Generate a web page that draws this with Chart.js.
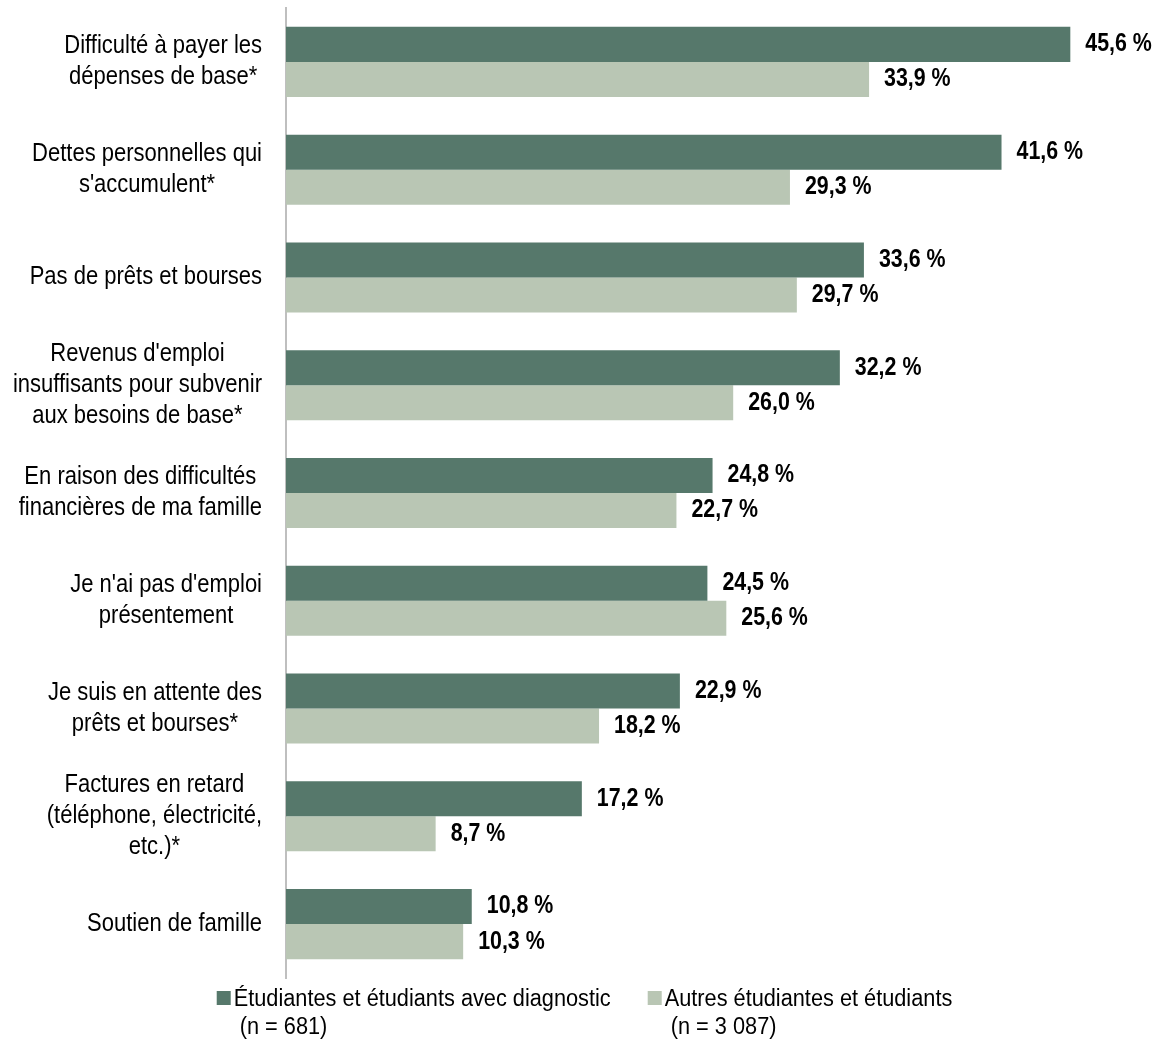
<!DOCTYPE html>
<html lang="fr">
<head>
<meta charset="utf-8">
<title>Difficultés financières</title>
<script src="https://cdn.jsdelivr.net/npm/chart.js@4.4.1/dist/chart.umd.min.js"></script>
<style>
    html, body { margin: 0; padding: 0; background: #ffffff; }
    #wrap { width: 1157px; height: 1042px; position: relative; }
</style>
</head>
<body>
<div id="wrap"><canvas id="chart"></canvas></div>
<script>
// Categories, top to bottom
const CATEGORIES = [
    ['Difficulté à payer les', 'dépenses de base*'],
    ['Dettes personnelles qui', "s'accumulent*"],
    ['Pas de prêts et bourses'],
    ["Revenus d'emploi", 'insuffisants pour subvenir', 'aux besoins de base*'],
    ['En raison des difficultés', 'financières de ma famille'],
    ["Je n'ai pas d'emploi", 'présentement'],
    ['Je suis en attente des', 'prêts et bourses*'],
    ['Factures en retard', '(téléphone, électricité,', 'etc.)*'],
    ['Soutien de famille']
];

// Percentages
const DIAGNOSTIC = [45.6, 41.6, 33.6, 32.2, 24.8, 24.5, 22.9, 17.2, 10.8];
const AUTRES = [33.9, 29.3, 29.7, 26.0, 22.7, 25.6, 18.2, 8.7, 10.3];

const SERIES_LABELS = [
    ['Étudiantes et étudiants avec diagnostic', ' (n = 681)'],
    ['Autres étudiantes et étudiants', ' (n = 3 087)']
];

const FONT_FAMILY = "'Liberation Sans', Arial, sans-serif";
const DARK = '#56786b';
const LIGHT = '#b9c6b4';

// No narrow face installed, so text is squeezed horizontally instead
function narrowText(ctx, text, x, y, squeeze) {
    ctx.save();
    ctx.translate(x, y);
    ctx.scale(squeeze, 1);
    ctx.fillText(text, 0, 0);
    ctx.restore();
}

// Multi-line category labels: lines centred within each block,
// blocks right-aligned against the axis
const categoryLabels = {
    id: 'categoryLabels',
    afterDraw(chart) {
        const ctx = chart.ctx;
        const yScale = chart.scales.y;
        const right = chart.chartArea.left - 24;
        const lineHeight = 31;
        const squeeze = 0.88;
        ctx.save();
        ctx.font = '25px ' + FONT_FAMILY;
        ctx.fillStyle = '#000000';
        ctx.textAlign = 'center';
        ctx.textBaseline = 'middle';
        CATEGORIES.forEach((lines, i) => {
            const y = yScale.getPixelForTick(i);
            const maxW = Math.max(...lines.map(l => ctx.measureText(l).width)) * squeeze;
            const cx = right - maxW / 2;
            const top = y - (lines.length - 1) * lineHeight / 2;
            lines.forEach((line, j) => narrowText(ctx, line, cx, top + j * lineHeight, squeeze));
        });
        ctx.restore();
    }
};

// Value labels at the end of each bar
const valueLabels = {
    id: 'valueLabels',
    afterDatasetsDraw(chart) {
        const ctx = chart.ctx;
        ctx.save();
        ctx.font = 'bold 25px ' + FONT_FAMILY;
        ctx.fillStyle = '#000000';
        ctx.textAlign = 'left';
        ctx.textBaseline = 'middle';
        chart.data.datasets.forEach((ds, di) => {
            chart.getDatasetMeta(di).data.forEach((bar, i) => {
                const text = ds.data[i].toFixed(1).replace('.', ',') + ' %';
                narrowText(ctx, text, bar.x + 15, bar.y, 0.855);
            });
        });
        ctx.restore();
    }
};

// Legend under the plot, two lines per entry
const bottomLegend = {
    id: 'bottomLegend',
    afterDraw(chart) {
        const ctx = chart.ctx;
        const squeeze = 0.945;
        const box = 14;
        const gap = 3;
        const itemGap = 37;
        const lineHeight = 28;
        const firstLine = chart.chartArea.bottom + 22;
        ctx.save();
        ctx.font = '23px ' + FONT_FAMILY;
        ctx.textAlign = 'left';
        ctx.textBaseline = 'middle';
        const widths = chart.data.datasets.map(ds =>
            box + gap + Math.max(...ds.label.map(l => ctx.measureText(l).width)) * squeeze);
        const total = widths.reduce((a, b) => a + b, 0) + itemGap * (widths.length - 1);
        let x = chart.width / 2 + 6 - total / 2;
        chart.data.datasets.forEach((ds, i) => {
            ctx.fillStyle = ds.backgroundColor;
            ctx.fillRect(x, firstLine - 9, box, box);
            ctx.fillStyle = '#000000';
            ds.label.forEach((line, j) =>
                narrowText(ctx, line, x + box + gap, firstLine + j * lineHeight, squeeze));
            x += widths[i] + itemGap;
        });
        ctx.restore();
    }
};

new Chart(document.getElementById('chart'), {
    type: 'bar',
    data: {
        labels: CATEGORIES,
        datasets: [{
            label: SERIES_LABELS[0],
            data: DIAGNOSTIC,
            backgroundColor: DARK
        }, {
            label: SERIES_LABELS[1],
            data: AUTRES,
            backgroundColor: LIGHT
        }]
    },
    options: {
        indexAxis: 'y',
        responsive: true,
        maintainAspectRatio: false,
        animation: false,
        categoryPercentage: 0.65,
        barPercentage: 1.0,
        layout: {
            padding: { top: 8, right: 11, left: 0, bottom: 64 }
        },
        scales: {
            x: {
                display: false,
                min: 0,
                max: 50
            },
            y: {
                ticks: { display: false },
                grid: { display: false },
                border: { color: '#bfbfbf', width: 2 },
                afterFit(scale) {
                    scale.width = 286;
                }
            }
        },
        plugins: {
            tooltip: { enabled: false },
            legend: { display: false }
        }
    },
    plugins: [categoryLabels, valueLabels, bottomLegend]
});
</script>
</body>
</html>
